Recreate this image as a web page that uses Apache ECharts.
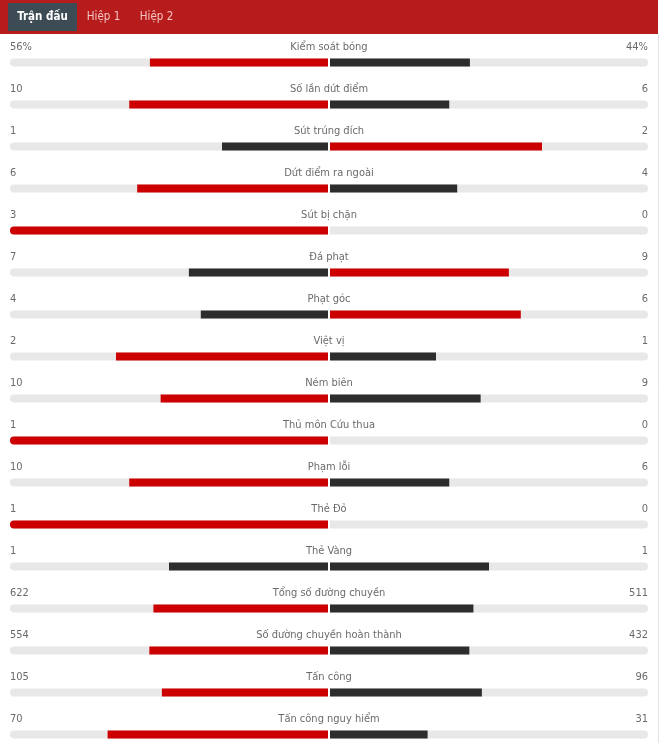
<!DOCTYPE html>
<html>
<head>
<meta charset="utf-8">
<script src="https://cdn.jsdelivr.net/npm/echarts@6/dist/echarts.min.js"></script>
<style>
html,body{margin:0;padding:0;background:#fff;}
#chart{width:660px;height:743px;}
</style>
</head>
<body>
<div id="chart"></div>
<script>
var tabs = ['Trận đấu', 'Hiệp 1', 'Hiệp 2'];
var labels = ['Kiểm soát bóng','Số lần dứt điểm','Sút trúng đích','Dứt điểm ra ngoài','Sút bị chặn','Đá phạt','Phạt góc','Việt vị','Ném biên','Thủ môn Cứu thua','Phạm lỗi','Thẻ Đỏ','Thẻ Vàng','Tổng số đường chuyền','Số đường chuyền hoàn thành','Tấn công','Tấn công nguy hiểm'];
var homeValues = [56,10,1,6,3,7,4,2,10,1,10,1,1,622,554,105,70];
var awayValues = [44,6,2,4,0,9,6,1,9,0,6,0,1,511,432,96,31];
var units = ['%','','','','','','','','','','','','','','','',''];

var RED = '#cc0000', DARK = '#2d2d2d', TRACK = '#e8e8e8';
var FONT = '"DejaVu Sans Condensed", "Noto Sans", sans-serif';

function barItem(v, other, side) {
  var total = v + other;
  var p = total ? v / total : 0;
  var color = v > other ? RED : DARK;
  var full = p >= 0.9999;
  var r = full ? (side === 'left' ? [4,0,0,4] : [0,4,4,0]) : 0;
  return { value: side === 'left' ? -p : p, itemStyle: { color: color, borderRadius: r } };
}

var leftData = homeValues.map(function (v, i) { return barItem(v, awayValues[i], 'left'); });
var rightData = awayValues.map(function (v, i) { return barItem(v, homeValues[i], 'right'); });
var trackLeft = labels.map(function () { return -1; });
var trackRight = labels.map(function () { return 1; });

var GTOP = 62.5, GH = 672;
function yAx(gi) {
  return { type: 'category', gridIndex: gi, data: labels, inverse: true, show: false, boundaryGap: false };
}
function textSeries(x, align, fmt) {
  return {
    type: 'scatter', xAxisIndex: 2, yAxisIndex: 2, symbolSize: 1, silent: true,
    itemStyle: { color: 'transparent' },
    data: labels.map(function (l, i) { return [x, i]; }),
    label: {
      show: true, position: 'inside', align: align, verticalAlign: 'middle', offset: [0, -15],
      color: '#444', fontSize: 11, fontFamily: FONT,
      formatter: function (p) { return fmt(p.dataIndex); }
    },
    z: 5
  };
}

var chart = echarts.init(document.getElementById('chart'), null, { renderer: 'canvas' });
chart.setOption({
  animation: false,
  grid: [
    { left: 10, top: GTOP, width: 318, height: GH },
    { left: 330, top: GTOP, width: 318, height: GH },
    { left: 10, top: GTOP, width: 638, height: GH }
  ],
  xAxis: [
    { type: 'value', gridIndex: 0, min: -1, max: 0, show: false },
    { type: 'value', gridIndex: 1, min: 0, max: 1, show: false },
    { type: 'value', gridIndex: 2, min: 0, max: 1, show: false }
  ],
  yAxis: [yAx(0), yAx(1), yAx(2)],
  series: [
    { type: 'bar', xAxisIndex: 0, yAxisIndex: 0, data: trackLeft, barWidth: 8, barGap: '-100%', silent: true,
      itemStyle: { color: TRACK, borderRadius: [4,0,0,4] }, z: 1 },
    { type: 'bar', xAxisIndex: 0, yAxisIndex: 0, data: leftData, barWidth: 8, barGap: '-100%', silent: true, z: 2 },
    { type: 'bar', xAxisIndex: 1, yAxisIndex: 1, data: trackRight, barWidth: 8, barGap: '-100%', silent: true,
      itemStyle: { color: TRACK, borderRadius: [0,4,4,0] }, z: 1 },
    { type: 'bar', xAxisIndex: 1, yAxisIndex: 1, data: rightData, barWidth: 8, barGap: '-100%', silent: true, z: 2 },
    textSeries(0, 'left', function (i) { return homeValues[i] + units[i]; }),
    textSeries(0.5, 'center', function (i) { return labels[i]; }),
    textSeries(1, 'right', function (i) { return awayValues[i] + units[i]; })
  ],
  graphic: [
    { type: 'rect', shape: { x: 0, y: 0, width: 658, height: 34 }, style: { fill: '#b71c1c' }, z: 10 },
    { type: 'line', shape: { x1: 658.5, y1: 34, x2: 658.5, y2: 743 }, style: { stroke: '#e4e4e4', lineWidth: 1 }, z: 10 },
    { type: 'rect', shape: { x: 8, y: 3, width: 69, height: 28 }, style: { fill: '#3d4b55' }, z: 11 },
    { type: 'text', x: 42.5, y: 17, style: { text: tabs[0], fill: '#ffffff', font: 'bold 11.5px ' + FONT, align: 'center', verticalAlign: 'middle' }, z: 12 },
    { type: 'text', x: 103.5, y: 17, style: { text: tabs[1], fill: '#f4c3c3', font: '11.5px ' + FONT, align: 'center', verticalAlign: 'middle' }, z: 12 },
    { type: 'text', x: 156.5, y: 17, style: { text: tabs[2], fill: '#f4c3c3', font: '11.5px ' + FONT, align: 'center', verticalAlign: 'middle' }, z: 12 }
  ]
});
</script>
</body>
</html>
